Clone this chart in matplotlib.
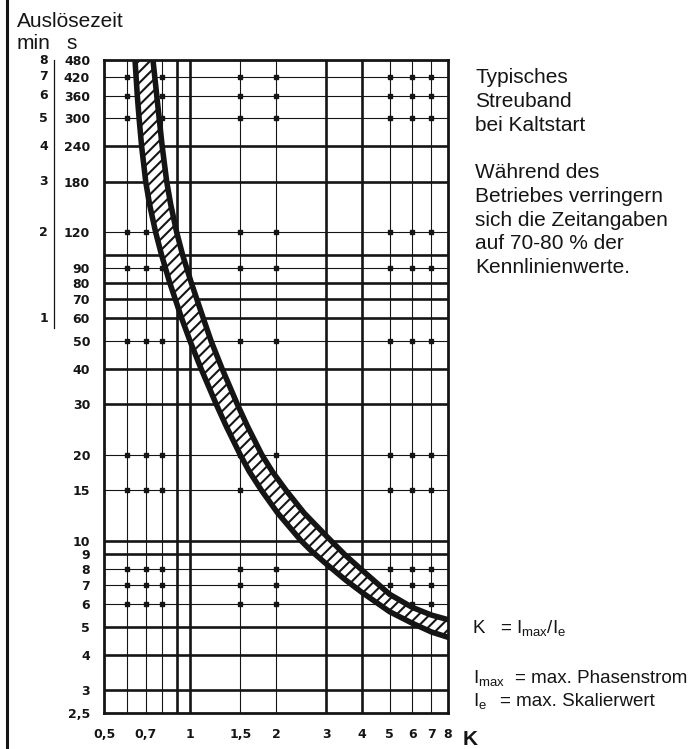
import matplotlib
matplotlib.use("Agg")
import matplotlib.pyplot as plt
import matplotlib.transforms as mtransforms
from matplotlib.lines import Line2D
from matplotlib.ticker import NullLocator

W, H = 689, 749
INK = "#151515"

# Trip-time scatter band (cold start): slow (upper) and fast (lower) boundary
upper_k = [0.742, 0.765, 0.78, 0.799, 0.829, 0.856, 0.898, 0.942, 1.01, 1.113,
           1.185, 1.295, 1.465, 1.594, 1.784, 1.939, 2.17, 2.51, 3.0, 3.5,
           4.0, 5.0, 6.0, 7.0, 8.0]
upper_t = [480, 360, 300, 240, 180, 150, 120, 100, 80, 60,
           50, 40, 30, 25, 20, 17.5, 15, 12.5, 10.4, 8.9,
           7.9, 6.5, 5.85, 5.5, 5.3]
lower_k = [0.642, 0.654, 0.6635, 0.677, 0.700, 0.722, 0.758, 0.795, 0.849, 0.935,
           1.0, 1.093, 1.236, 1.343, 1.499, 1.611, 1.78, 2.028, 2.45, 2.664,
           3.0, 3.5, 4.0, 5.0, 6.0, 7.0, 8.0]
lower_t = [480, 360, 300, 240, 180, 150, 120, 100, 80, 60,
           50, 40, 30, 25, 20, 17.5, 15, 12.5, 10, 9.2,
           8.3, 7.3, 6.6, 5.65, 5.15, 4.8, 4.6]

# Axis ticks
x_ticks = [0.5, 0.7, 1, 1.5, 2, 3, 4, 5, 6, 7, 8]
x_labels = ["0,5", "0,7", "1", "1,5", "2", "3", "4", "5", "6", "7", "8"]
y_ticks = [2.5, 3, 4, 5, 6, 7, 8, 9, 10, 15, 20, 30, 40, 50, 60, 70, 80, 90,
           120, 180, 240, 300, 360, 420, 480]
y_labels = ["2,5", "3", "4", "5", "6", "7", "8", "9", "10", "15", "20", "30",
            "40", "50", "60", "70", "80", "90", "120", "180", "240", "300",
            "360", "420", "480"]
minutes = [1, 2, 3, 4, 5, 6, 7, 8]

# Grid rulings
grid_x_thick = [0.9, 1, 3, 4]
grid_x_thin = [0.6, 0.7, 0.8, 1.5, 2, 5, 6, 7]
grid_y_thick = [3, 4, 5, 9, 10, 30, 40, 60, 70, 80, 100, 180, 240]
grid_y_thin = [6, 7, 8, 15, 20, 50, 90, 120, 300, 360, 420]

SANS = "Liberation Sans"
TICKFONT = "DejaVu Sans"
plt.rcParams["hatch.linewidth"] = 1.5
plt.rcParams["mathtext.fontset"] = "custom"
plt.rcParams["mathtext.rm"] = SANS
plt.rcParams["mathtext.it"] = SANS

fig = plt.figure(figsize=(W / 100, H / 100), dpi=100)
ax = fig.add_axes([104 / W, 1 - 713 / H, (448 - 104) / W, (713 - 60) / H])
ax.set_xscale("log")
ax.set_yscale("log")
ax.set_xlim(0.5, 8)
ax.set_ylim(2.5, 480)

for v in grid_x_thick:
    ax.axvline(v, color=INK, lw=1.9, zorder=1)
for v in grid_x_thin:
    ax.axvline(v, color=INK, lw=0.8, zorder=1)
for v in grid_y_thick:
    ax.axhline(v, color=INK, lw=1.9, zorder=1)
for v in grid_y_thin:
    ax.axhline(v, color=INK, lw=0.8, zorder=1)

# small knots where thin rulings cross
kx = [x for x in grid_x_thin for _ in grid_y_thin]
ky = [y for _ in grid_x_thin for y in grid_y_thin]
ax.plot(kx, ky, "s", ms=2.2, color=INK, zorder=1.5, ls="none")

# hatched band
poly_k = upper_k + lower_k[::-1]
poly_t = upper_t + lower_t[::-1]
ax.fill(poly_k, poly_t, facecolor="white", edgecolor=INK, hatch="///",
        lw=0, zorder=3)
ax.plot(upper_k, upper_t, color=INK, lw=4.0, zorder=4, solid_joinstyle="round")
ax.plot(lower_k, lower_t, color=INK, lw=4.0, zorder=4, solid_joinstyle="round")

for s in ax.spines.values():
    s.set_linewidth(2.0)
    s.set_color(INK)
    s.set_zorder(5)

ax.set_xticks(x_ticks, x_labels)
ax.set_yticks(y_ticks, y_labels)
ax.xaxis.set_minor_locator(NullLocator())
ax.yaxis.set_minor_locator(NullLocator())
ax.tick_params(axis="both", length=0, labelsize=9, colors=INK)
ax.tick_params(axis="x", pad=11)
ax.tick_params(axis="y", pad=10)
for lbl in ax.get_xticklabels() + ax.get_yticklabels():
    lbl.set_fontweight("bold")
    lbl.set_fontfamily(TICKFONT)

# minute scale left of the seconds scale
trans = mtransforms.blended_transform_factory(fig.transFigure, ax.transData)
for m in minutes:
    ax.text(48 / W, m * 60, str(m), transform=trans, ha="right", va="center",
            fontsize=9, fontweight="bold", family=TICKFONT, color=INK)
fig.add_artist(Line2D([54 / W, 54 / W], [55.5, 480], transform=trans,
                      color=INK, lw=0.9))

# page frame line at the left
fig.add_artist(Line2D([7 / W, 7 / W], [0, 1], transform=fig.transFigure,
                      color=INK, lw=2.2))


def ftext(px, py, s, size=15, **kw):
    fig.text(px / W, 1 - py / H, s, fontsize=size, family=SANS, color=INK,
             va="baseline", **kw)


ftext(17, 27, "Auslösezeit")
ftext(17, 49, "min")
ftext(66, 49, "s")

right_lines = [(83, "Typisches"), (107, "Streuband"), (131, "bei Kaltstart"),
               (178, "Während des"), (202, "Betriebes verringern"),
               (226, "sich die Zeitangaben"), (249, "auf 70-80 % der"),
               (273, "Kennlinienwerte.")]
for py, s in right_lines:
    ftext(475, py, s)

ftext(473, 633, "K", size=13.5)
ftext(500, 633, r"= $\mathregular{I_{max}/I_e}$", size=13.5)
ftext(473, 683, r"$\mathregular{I_{max}}$", size=13.5)
ftext(515, 683, "= max. Phasenstrom", size=13.5)
ftext(473, 706, r"$\mathregular{I_e}$", size=13.5)
ftext(500, 706, "= max. Skalierwert", size=13.5)

fig.text(463 / W, 1 - 745 / H, "K", fontsize=15, fontweight="bold",
         family=SANS, color=INK, va="baseline")

fig.savefig("out.png", dpi=100)
